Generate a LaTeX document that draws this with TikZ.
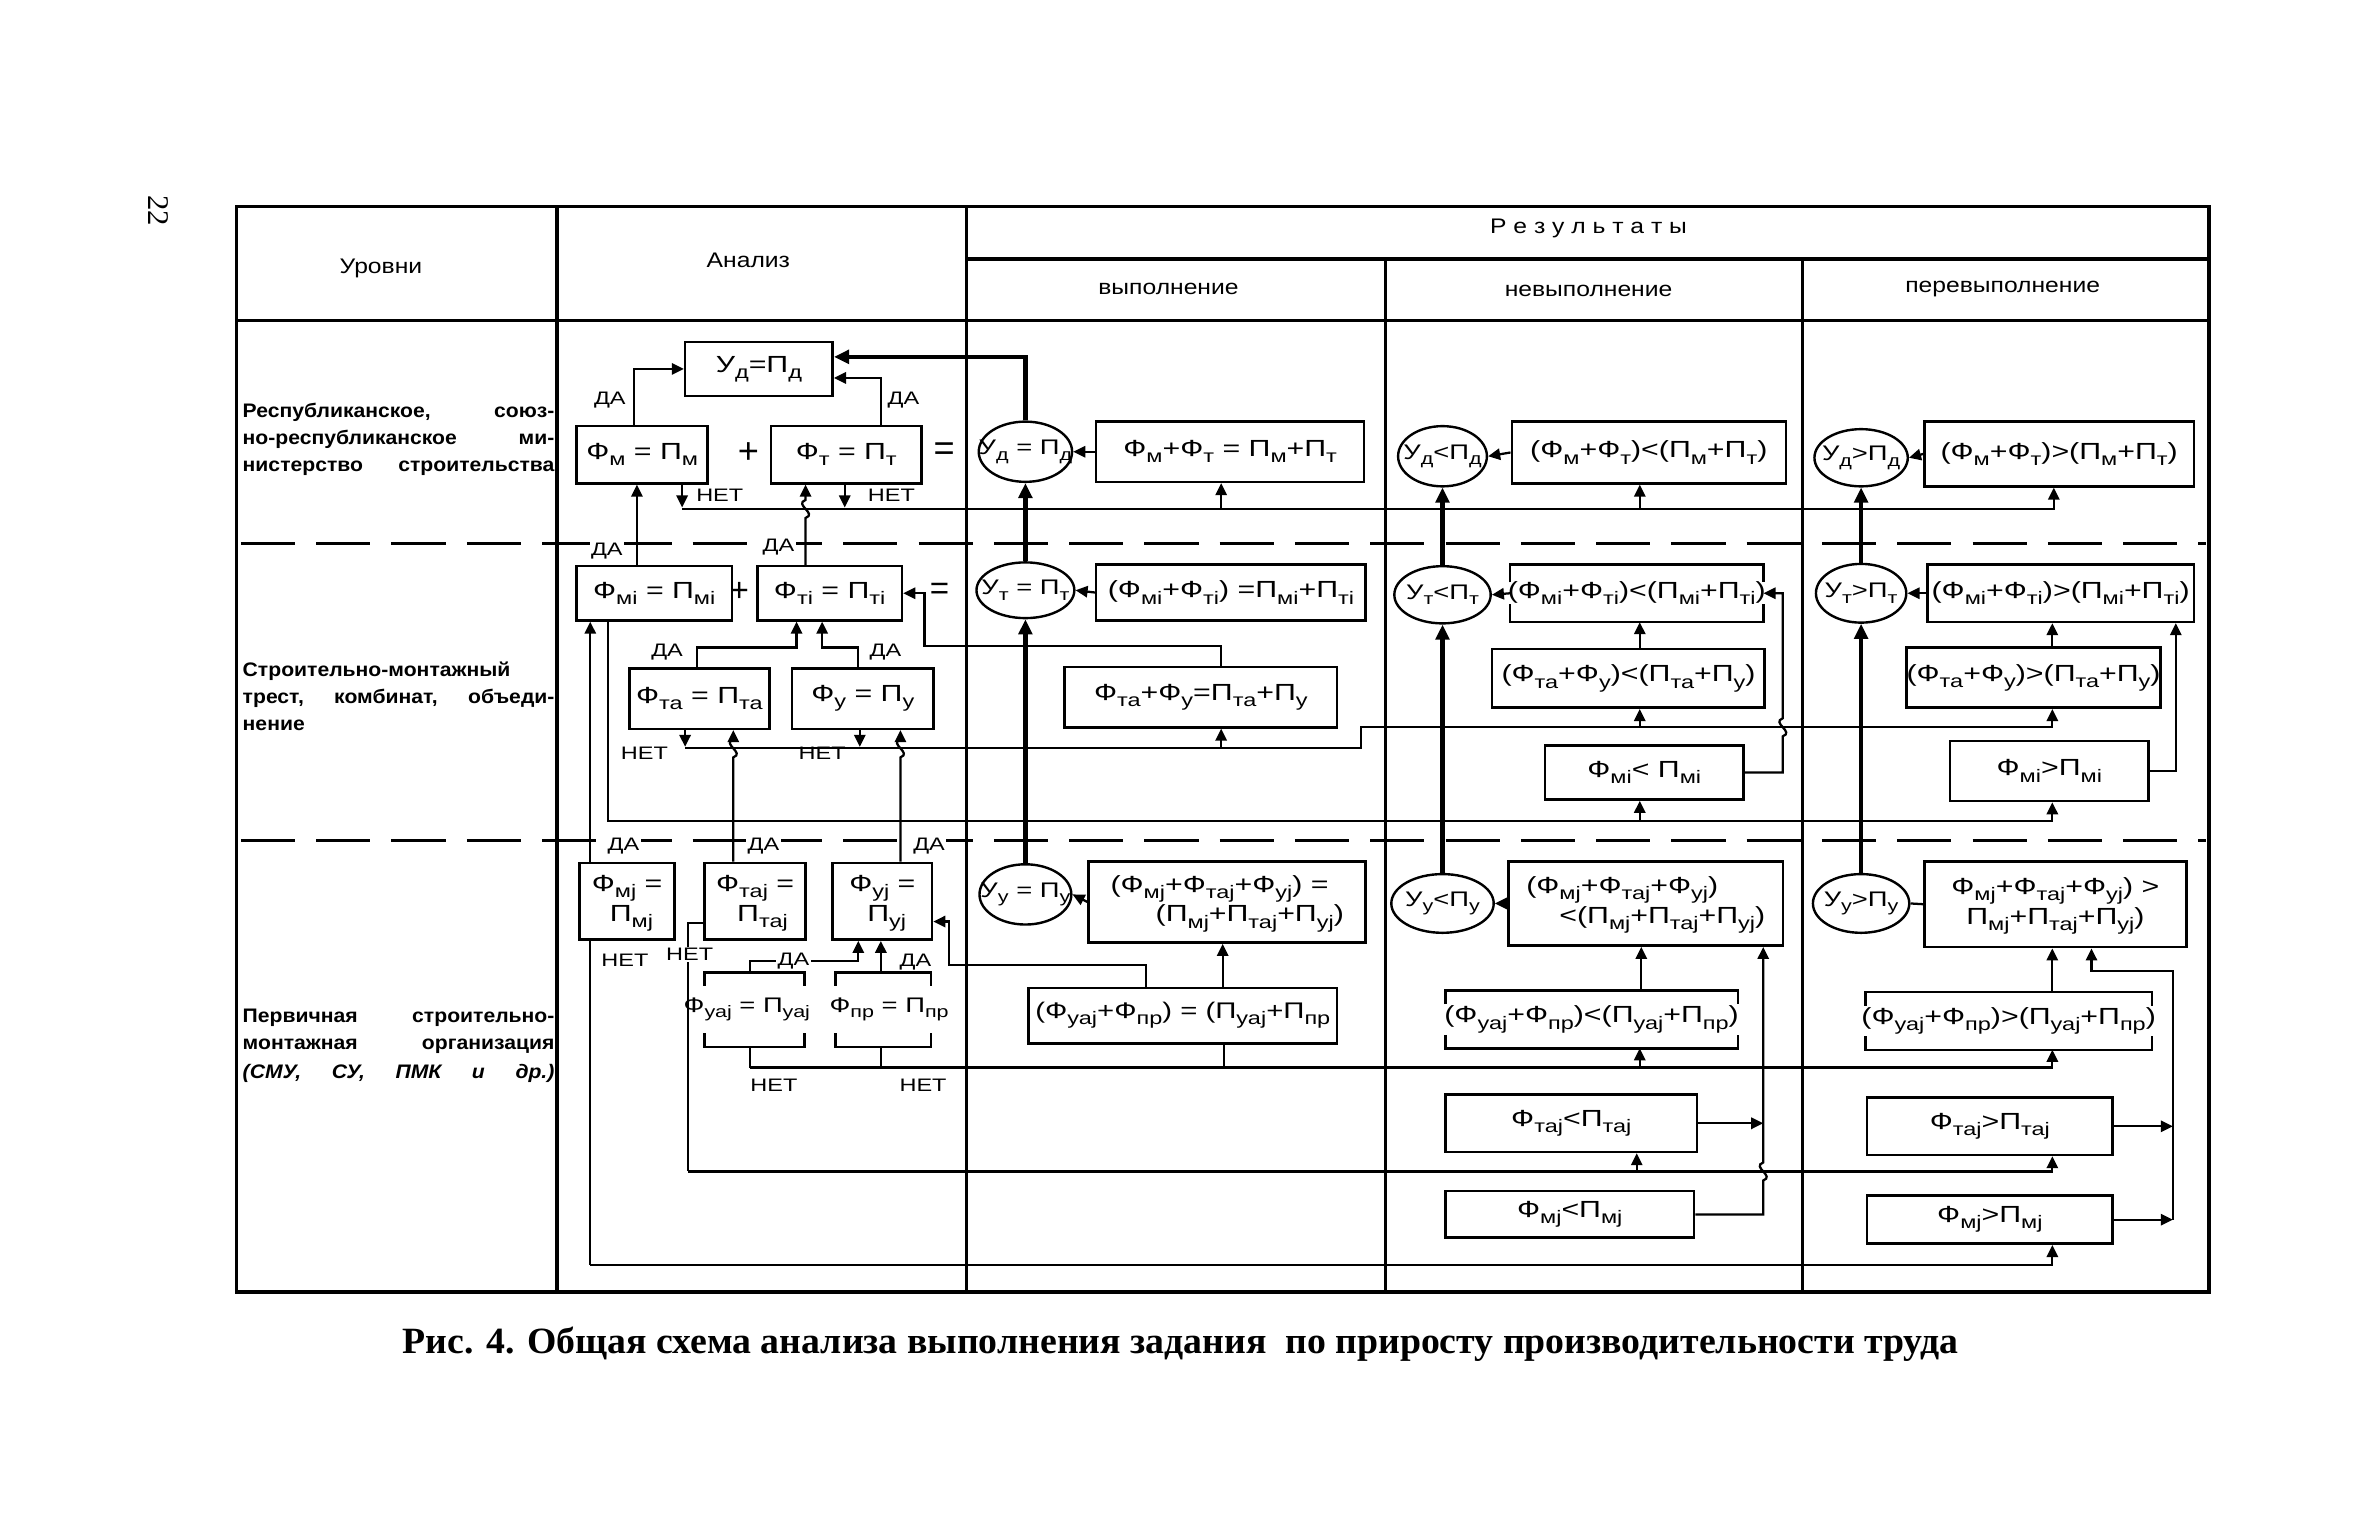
\documentclass[tikz,border=0pt]{standalone}
\usepackage{fontspec}
\usepackage{graphicx}
\setmainfont{Liberation Sans}
\newfontfamily\fmf[FakeStretch=1.3]{Liberation Sans}
\newfontfamily\hdf[FakeStretch=1.17]{Liberation Sans}
\newfontfamily\lvf[FakeStretch=1.08]{Liberation Sans}
\newfontfamily\capf[FakeStretch=1.02]{Liberation Serif}
\usetikzlibrary{arrows.meta,shapes.geometric,calc}
\newcommand\lo[1]{\raisebox{-0.5ex}{\fontsize{12}{12}\selectfont #1}}
\newcommand\loe[1]{\raisebox{-0.5ex}{\fontsize{11}{11}\selectfont #1}}
\newcommand\Ff[1]{Ф\lo{#1}}
\newcommand\Pp[1]{П\lo{#1}}
\newcommand\Fe[1]{Ф\loe{#1}}
\newcommand\Ue[1]{У\loe{#1}}
\newcommand\Pe[1]{П\loe{#1}}
\newcommand\zc[1]{\makebox[0pt]{#1}}
\newcommand\zt[2]{\makebox[0pt]{\begin{tabular}{@{}l@{}}#1\\#2\end{tabular}}}
\newcommand\brkt[2]{%
  \draw[line width=1.7pt] ([yshift=-#2pt]#1.north west) -- (#1.north west) -- (#1.north east) -- ([yshift=-#2pt]#1.north east);
  \draw[line width=1.7pt] ([yshift=#2pt]#1.south west) -- (#1.south west) -- (#1.south east) -- ([yshift=#2pt]#1.south east);}
\begin{document}
\begin{tikzpicture}[x=1pt,y=-1pt,
  bx/.style={draw, rectangle, line width=1.7pt, inner sep=0pt, font=\fmf\fontsize{15.5}{19}\selectfont},
  bk/.style={rectangle, inner sep=0pt, font=\fmf\fontsize{15.5}{19}\selectfont},
  el/.style={draw, ellipse, line width=1.6pt, inner sep=0pt, font=\fmf\fontsize{14}{18}\selectfont},
  sz/.style 2 args={minimum width=#1pt, minimum height=#2pt},
  lab/.style={inner sep=1pt, font=\fmf\fontsize{12}{12}\selectfont},
  wl/.style={lab, fill=white},
  hd/.style={inner sep=0pt, font=\hdf\fontsize{14}{14}\selectfont},
  lv/.style={inner sep=0pt, anchor=base west, font=\lvf\bfseries\fontsize{13}{18}\selectfont},
  arr/.style={line width=1.5pt, -{Triangle[length=8pt,width=7.5pt]}},
  ln/.style={line width=1.5pt},
  thk/.style={line width=2.8pt, -{Triangle[length=10pt,width=9pt]}},
  grid/.style={line width=2.2pt},
  dsh/.style={line width=2.2pt, dash pattern=on 36pt off 14pt}]
\useasboundingbox (0,0) rectangle (1568,1020);
\fill[white] (0,0) rectangle (1568,1020);
% page number
\node[rotate=-90, inner sep=0pt, font=\capf\fontsize{20}{20}\selectfont] (pg) at (105,140) {22};
% table
\draw[grid] (157,137) rectangle (1467,858);
\draw[grid] (370,137) -- (370,858);
\draw[grid] (642,137) -- (642,858);
\draw[grid] (920,172) -- (920,858);
\draw[grid] (1197,172) -- (1197,858);
\draw[grid] (642,172) -- (1467,172);
\draw[grid] (157,213) -- (1467,213);
\draw[dsh] (160,361) -- (1465,361);
\draw[dsh] (160,558) -- (1465,558);
% headers
\node[hd] (h1) at (253,178) {Уровни};
\node[hd] (h2) at (497,173) {Анализ};
\node[hd] (h3) at (1055,152) {Р е з у л ь т а т ы};
\node[hd] (h4) at (776,192) {выполнение};
\node[hd] (h5) at (1055,193) {невыполнение};
\node[hd] (h6) at (1330,192) {перевыполнение};
% levels
\node[lv] (l1a) at (161,277) {\makebox[207pt][s]{Республиканское, союз-}};
\node[lv] (l1b) at (161,295) {\makebox[207pt][s]{но-республиканское ми-}};
\node[lv] (l1c) at (161,313) {\makebox[207pt][s]{нистерство строительства}};
\node[lv] (l2a) at (161,449) {Строительно-монтажный};
\node[lv] (l2b) at (161,467) {\makebox[207pt][s]{трест, комбинат, объеди-}};
\node[lv] (l2c) at (161,485) {нение};
\node[lv] (l3a) at (161,679) {\makebox[207pt][s]{Первичная строительно-}};
\node[lv] (l3b) at (161,697) {\makebox[207pt][s]{монтажная организация}};
\node[lv] (l3c) at (161,716) {\itshape\makebox[207pt][s]{(СМУ, СУ, ПМК и др.)}};
% caption
\node[anchor=base, inner sep=0pt, font=\capf\bfseries\fontsize{24.6}{25}\selectfont] (cap) at (784,899) {Рис. 4. Общая схема анализа выполнения задания \ по приросту производительности труда};

% ---------- analysis column
\node[bx,sz={98}{36}] (ud) at (504,245) {\zc{У\lo{д}=\Pp{д}}};
\node[bx,sz={87}{38}] (fm) at (426.5,302) {\zc{\Ff{м} = \Pp{м}}};
\node[bx,sz={100}{38}] (ft) at (562,302) {\zc{\Ff{т} = \Pp{т}}};
\node[inner sep=0pt, font=\fontsize{24}{24}\selectfont] (pl1) at (497,301) {+};
\node[inner sep=0pt, font=\fontsize{24}{24}\selectfont] (eq1) at (627,300) {=};
\node[bx,sz={103}{36}] (fmi) at (434.5,394) {\zc{\Ff{мi} = \Pp{мi}}};
\node[bx,sz={96}{36}] (fti) at (551,394) {\zc{\Ff{тi} = \Pp{тi}}};
\node[inner sep=0pt, font=\fontsize{22}{22}\selectfont] (pl2) at (491,393) {+};
\node[inner sep=0pt, font=\fontsize{22}{22}\selectfont] (eq2) at (624,393) {=};
\node[bx,sz={93}{40}] (fta) at (464.5,464) {\zc{\Ff{та} = \Pp{та}}};
\node[bx,sz={94}{40}] (fu) at (573,464) {\zc{\Ff{у} = \Pp{у}}};
\node[bx,sz={63}{51}] (fmj) at (416.5,598.5) {\zt{\Ff{мj} =}{\hspace*{12pt}\Pp{мj}}};
\node[bx,sz={67}{51}] (ftaj) at (501.5,598.5) {\zt{\Ff{таj} =}{\hspace*{14pt}\Pp{таj}}};
\node[bx,sz={66}{51}] (fuj) at (586,598.5) {\zt{\Ff{уj} =}{\hspace*{12pt}\Pp{уj}}};
\node[bk,sz={66}{49},font=\fmf\fontsize{14}{18}\selectfont] (fuaj) at (501,670.5) {\zc{\hspace*{-10pt}\Fe{уаj} = \Pe{уаj}}};
\node[bk,sz={63}{49},font=\fmf\fontsize{14}{18}\selectfont] (fpr) at (586.5,670.5) {\zc{\hspace*{8pt}\Fe{пр} = \Pe{пр}}};
\brkt{fuaj}{9}
\brkt{fpr}{9}

% ---------- fulfilment
\node[el,sz={62}{40}] (eud) at (681,300) {\zc{\Ue{д} = \Pe{д}}};
\node[bx,sz={178}{40}] (vd1) at (817,300) {\zc{\Ff{м}+\Ff{т} = \Pp{м}+\Pp{т}}};
\node[el,sz={65}{37}] (eut) at (681,392) {\zc{\Ue{т} = \Pe{т}}};
\node[bx,sz={179}{37}] (vd2) at (817.5,393.5) {\zc{(\Ff{мi}+\Ff{тi}) =\Pp{мi}+\Pp{тi}}};
\node[bx,sz={181}{40}] (vd3) at (797.5,463) {\zc{\Ff{та}+\Ff{у}=\Pp{та}+\Pp{у}}};
\node[el,sz={61}{40}] (euu) at (681,594) {\zc{\Ue{у} = \Pe{у}}};
\node[bx,sz={184}{54}] (vd4) at (815,599) {\zt{(\Ff{мj}+\Ff{таj}+\Ff{уj}) =}{\hspace*{30pt}(\Pp{мj}+\Pp{таj}+\Pp{уj})}};
\node[bx,sz={205}{37},font=\fmf\fontsize{15}{19}\selectfont] (vd5) at (785.5,674.5) {\zc{(\Ff{уаj}+\Ff{пр}) = (\Pp{уаj}+\Pp{пр}}};

% ---------- non-fulfilment
\node[el,sz={59}{40}] (nud) at (958,303) {\zc{\Ue{д}<\Pe{д}}};
\node[bx,sz={182}{41}] (nd1) at (1095,300.5) {\zc{(\Ff{м}+\Ff{т})<(\Pp{м}+\Pp{т})}};
\node[el,sz={64}{38}] (nut) at (958,395) {\zc{\Ue{т}<\Pe{т}}};
\node[bk,sz={168}{38}] (nd2) at (1087,394) {\zc{(\Ff{мi}+\Ff{тi})<(\Pp{мi}+\Pp{тi})}};
\brkt{nd2}{12}
\node[bx,sz={181}{39}] (nd3) at (1081.5,450.5) {\zc{(\Ff{та}+\Ff{у})<(\Pp{та}+\Pp{у})}};
\node[bx,sz={132}{36}] (nm1) at (1092,513) {\zc{\Ff{мi}< \Pp{мi}}};
\node[el,sz={68}{39}] (nuu) at (958,600) {\zc{\Ue{у}<\Pe{у}}};
\node[bx,sz={182}{56}] (nd4) at (1093,600) {\zt{(\Ff{мj}+\Ff{таj}+\Ff{уj})}{\hspace*{22pt}<(\Pp{мj}+\Pp{таj}+\Pp{уj})}};
\node[bk,sz={194}{38}] (nu4) at (1057,677) {\zc{(\Ff{уаj}+\Ff{пр})<(\Pp{уаj}+\Pp{пр})}};
\brkt{nu4}{9}
\node[bx,sz={167}{38}] (nt5) at (1043.5,746) {\zc{\Ff{таj}<\Pp{таj}}};
\node[bx,sz={165}{31}] (nm6) at (1042.5,806.5) {\zc{\Ff{мj}<\Pp{мj}}};

% ---------- over-fulfilment
\node[el,sz={62}{38}] (pud) at (1236,304) {\zc{\Ue{д}>\Pe{д}}};
\node[bx,sz={179}{43}] (pd1) at (1367.5,301.5) {\zc{(\Ff{м}+\Ff{т})>(\Pp{м}+\Pp{т})}};
\node[el,sz={60}{39}] (put) at (1236,394) {\zc{\Ue{т}>\Pe{т}}};
\node[bx,sz={177}{38}] (pd2) at (1368.5,394) {\zc{(\Ff{мi}+\Ff{тi})>(\Pp{мi}+\Pp{тi})}};
\node[bx,sz={169}{40}] (pd3) at (1350.5,450) {\zc{(\Ff{та}+\Ff{у})>(\Pp{та}+\Pp{у})}};
\node[bx,sz={132}{40}] (pm1) at (1361,512) {\zc{\Ff{мi}>\Pp{мi}}};
\node[el,sz={64}{39}] (puu) at (1236,600) {\zc{\Ue{у}>\Pe{у}}};
\node[bx,sz={174}{57}] (pd4) at (1365,600.5) {\zt{\Ff{мj}+\Ff{таj}+\Ff{уj}) >}{\hspace*{10pt}\Pp{мj}+\Pp{таj}+\Pp{уj})}};
\node[bk,sz={190}{38}] (pu4) at (1334,678) {\zc{(\Ff{уаj}+\Ff{пр})>(\Pp{уаj}+\Pp{пр})}};
\brkt{pu4}{9}
\node[bx,sz={163}{38}] (pt5) at (1321.5,748) {\zc{\Ff{таj}>\Pp{таj}}};
\node[bx,sz={163}{32}] (pm6) at (1321.5,810) {\zc{\Ff{мj}>\Pp{мj}}};

% ---------- analysis connectors, level 1
\draw[arr] (fm.north -| 421,0) |- (ud.west);
\draw[arr] (ft.north -| 585,0) |- (ud.east |- 0,251);
\draw[thk] (eud.north) |- (ud.east |- 0,237);
\node[lab] (t1) at (405,266) {ДА};
\node[lab] (t2) at (600,266) {ДА};
\draw[arr] (fm.south -| 453,0) -- (453,337);
\draw[arr] (ft.south -| 561,0) -- (561,337);
\draw[arr] (453,338) -| (pd1.south -| 1364,0);
\draw[arr] (811,338) -- (vd1.south -| 811,0);
\draw[arr] (1089,338) -- (nd1.south -| 1089,0);
\node[lab] (t3) at (478,329) {НЕТ};
\node[lab] (t4) at (592,329) {НЕТ};
\draw[arr] (fti.north -| 535,0) -- (535,344) .. controls (543,341) and (527,335) .. (535,332) -- (ft.south -| 535,0);
\draw[arr] (fmi.north -| 423,0) -- (fm.south -| 423,0);
\node[wl] (t5) at (403,366) {ДА};
\node[wl] (t6) at (517,363) {ДА};

% level 2
\draw[arr] (fmj.north -| 392,0) -- (fmi.south -| 392,0);
\draw[arr] (fmi.south -| 404,0) -- (404,545) -| (pm1.south -| 1363,0);
\draw[arr] (1089,545) -- (nm1.south -| 1089,0);
\draw[arr] (fta.north -| 463,0) |- (529,430) -- (fti.south -| 529,0);
\draw[arr] (fu.north -| 570,0) |- (546,430) -- (fti.south -| 546,0);
\node[lab] (t7) at (443,433) {ДА};
\node[lab] (t8) at (588,433) {ДА};
\draw[arr] (vd3.north -| 811,0) |- (614,429) |- (fti.east);
\draw[arr] (fta.south -| 455,0) -- (455,496);
\draw[arr] (fu.south -| 571,0) -- (571,496);
\draw[arr] (455,497) -- (904,497) -- (904,483) -| (pd3.south -| 1363,0);
\draw[arr] (811,497) -- (vd3.south -| 811,0);
\draw[arr] (1089,483) -- (nd3.south -| 1089,0);
\node[lab] (t9) at (428,500) {НЕТ};
\node[lab] (t10) at (546,500) {НЕТ};
\draw[arr] (ftaj.north -| 487,0) -- (487,503) .. controls (495,500) and (479,494) .. (487,491) -- (fta.south -| 487,0);
\draw[arr] (fuj.north -| 598,0) -- (598,503) .. controls (606,500) and (590,494) .. (598,491) -- (fu.south -| 598,0);
\node[wl] (t11) at (414,562) {ДА};
\node[wl] (t12) at (507,562) {ДА};
\node[wl] (t13) at (617,562) {ДА};

% level 3
\draw[arr] (vd5.north -| 761,0) |- (630,641) |- (fuj.east |- 0,612);
\draw[arr] (fuaj.north -| 498,0) |- (570,638) -- (fuj.south -| 570,0);
\draw[arr] (fpr.north -| 585,0) -- (fuj.south -| 585,0);
\node[wl] (t14) at (527,638) {ДА};
\node[lab] (t15) at (608,639) {ДА};
\draw[ln] (fuaj.south -| 498,0) -- (498,709);
\draw[ln] (fpr.south -| 585,0) -- (585,709);
\draw[arr] (498,709) -| (pu4.south -| 1363,0);
\draw[ln] (vd5.south -| 813,0) -- (813,709);
\draw[arr] (1089,709) -- (nu4.south -| 1089,0);
\node[lab] (t16) at (514,721) {НЕТ};
\node[lab] (t17) at (613,721) {НЕТ};
\draw[ln] (ftaj.west |- 0,613) -| (457,778);
\draw[arr] (457,778) -| (pt5.south -| 1363,0);
\draw[arr] (1087,778) -- (nt5.south -| 1087,0);
\node[wl] (t18) at (458,634) {НЕТ};
\draw[ln] (fmj.south -| 392,0) -- (392,840);
\draw[arr] (392,840) -| (pm6.south -| 1363,0);
\node[lab] (t19) at (415,638) {НЕТ};

% ---------- results connectors
\draw[arr] (vd1.west) -- (eud.east);
\draw[arr] (vd2.west) -- (eut.east);
\draw[arr] (vd4.west) -- (euu.east);
\draw[thk] (euu.north) -- (eut.south);
\draw[thk] (eut.north) -- (eud.south);
\draw[arr] (vd5.north -| 812,0) -- (vd4.south -| 812,0);

\draw[arr] (nd1.west) -- (nud.east);
\draw[arr] (nd2.west) -- (nut.east);
\draw[arr] (nd4.west) -- (nuu.east);
\draw[thk] (nuu.north) -- (nut.south);
\draw[thk] (nut.north) -- (nud.south);
\draw[arr] (nd3.north -| 1089,0) -- (nd2.south -| 1089,0);
\draw[arr] (nm1.east) -- (1184,513) -- (1184,489) .. controls (1192,486) and (1176,480) .. (1184,477) -- (1184,394) -- (nd2.east);
\draw[arr] (nu4.north -| 1090,0) -- (nd4.south -| 1090,0);
\draw[arr] (nt5.east) -- (1171,746);
\draw[arr] (nm6.east) -- (1171,806.5) -- (1171,784) .. controls (1179,781) and (1163,775) .. (1171,772) -- (nd4.south -| 1171,0);

\draw[arr] (pd1.west) -- (pud.east);
\draw[arr] (pd2.west) -- (put.east);
\draw[ln] (pd4.west) -- (puu.east);
\draw[thk] (puu.north) -- (put.south);
\draw[thk] (put.north) -- (pud.south);
\draw[arr] (pd3.north -| 1363,0) -- (pd2.south -| 1363,0);
\draw[arr] (pm1.east) -| (pd2.south -| 1445,0);
\draw[arr] (pu4.north -| 1363,0) -- (pd4.south -| 1363,0);
\draw[arr] (pt5.east) -- (1443,748);
\draw[arr] (pm6.east) -- (1443,810);
\draw[arr] (1443,810) -- (1443,645) -| (pd4.south -| 1389,0);
\end{tikzpicture}
\end{document}
